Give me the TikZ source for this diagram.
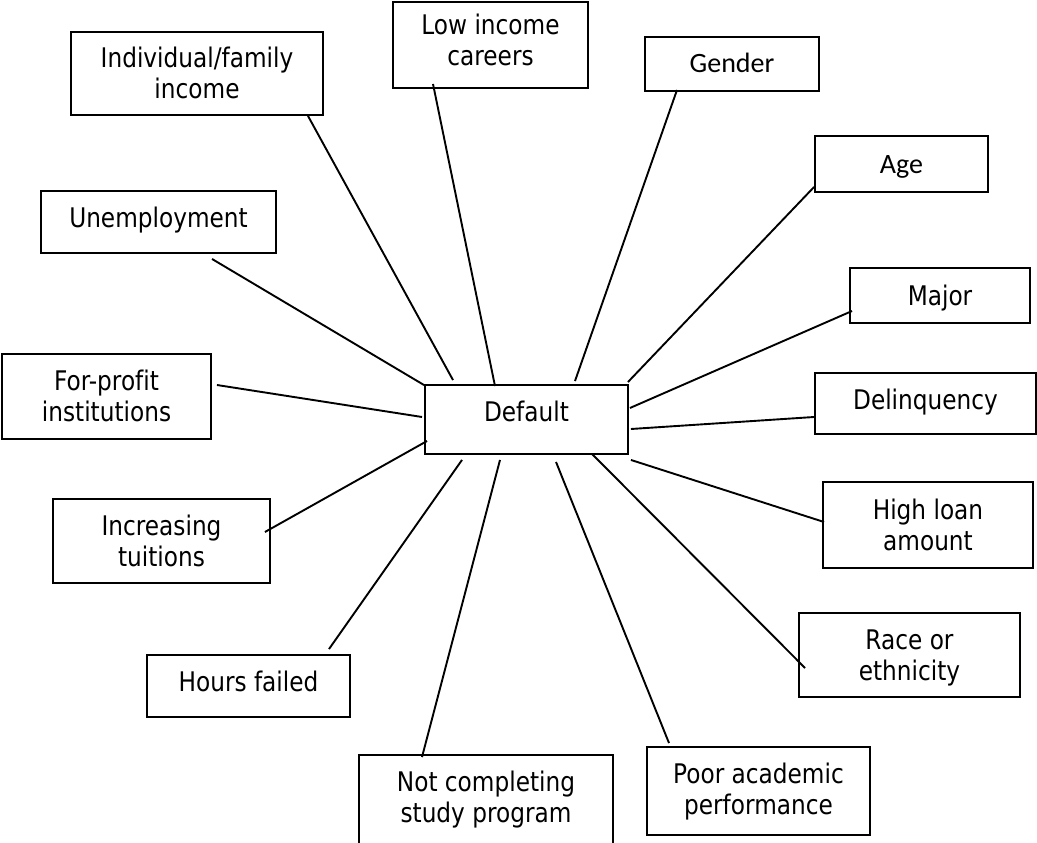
\documentclass[tikz,border=0pt]{standalone}
\usepackage{fontspec}
\setmainfont{DejaVu Sans}[FakeStretch=0.86,Ligatures=NoCommon]
\newfontfamily\calib{Carlito}
\begin{document}
\begin{tikzpicture}[x=1pt,y=-1pt,
  box/.style={draw, line width=1.9pt, inner sep=0pt, align=center,
    font=\fontsize{27}{31}\selectfont},
  bx/.style 2 args={minimum width=#1, minimum height=#2},
  tx/.style={text height=19.7pt, text depth=#1},
  txx/.style={text height=50.7pt, text depth=#1},
  cal/.style={font=\calib\fontsize{28}{31}\selectfont, text height=18pt, text depth=0pt},
  link/.style={line width=1.9pt}]
\clip (0,0) rectangle (1037,843);
\fill[white] (0,0) rectangle (1037,843);

\node[box, bx={203pt}{69pt}, tx=15pt] (def) at (526.5,419.5) {Default};
\node[box, bx={252pt}{83pt}, txx=-4pt] (ind) at (197,73.5) {Individual/family\\income};
\node[box, bx={195pt}{86pt}, txx=9pt] (low) at (490.5,45) {Low income\\careers};
\node[box, bx={174pt}{54pt}, cal] (gen) at (732,64) {Gender};
\node[box, bx={173pt}{56pt}, cal] (age) at (901.5,164) {Age};
\node[box, bx={180pt}{55pt}, tx=0pt] (maj) at (940,295.5) {Major};
\node[box, bx={221pt}{61pt}, tx=7pt] (del) at (925.5,403.5) {Delinquency};
\node[box, bx={210pt}{86pt}, txx=0pt] (hla) at (928,525) {High loan\\amount};
\node[box, bx={221pt}{84pt}, txx=0pt] (rac) at (909.5,655) {Race or\\ethnicity};
\node[box, bx={223pt}{88pt}, txx=4pt] (poo) at (758.5,791) {Poor academic\\performance};
\node[box, bx={254pt}{95pt}, txx=10pt] (not) at (486,802.5) {Not completing\\study program};
\node[box, bx={203pt}{62pt}, tx=8pt] (hou) at (248.5,686) {Hours failed};
\node[box, bx={217pt}{84pt}, txx=0pt] (inc) at (161.5,541) {Increasing\\tuitions};
\node[box, bx={209pt}{85pt}, txx=0pt] (for) at (106.5,396.5) {For-profit\\institutions};
\node[box, bx={235pt}{62pt}, tx=9pt] (une) at (158.5,222) {Unemployment};

\draw[link] ([xshift=111pt]ind.south) -- ([xshift=-73.5pt,yshift=4pt]def.north);
\draw[link] ([xshift=-57.5pt,yshift=5pt]low.south) -- ([xshift=-31.5pt,yshift=-2pt]def.north);
\draw[link] ([xshift=-55pt,yshift=2pt]gen.south) -- ([xshift=48.5pt,yshift=3pt]def.north);
\draw[link] ([yshift=-23pt]age.west) -- ([xshift=-1pt,yshift=2pt]def.north east);
\draw[link] ([xshift=3pt,yshift=-15.5pt]maj.west) -- ([xshift=1pt,yshift=11.5pt]def.east);
\draw[link] ([yshift=-13.5pt]del.west) -- ([xshift=2pt,yshift=-9.5pt]def.east);
\draw[link] ([xshift=2pt,yshift=3pt]hla.west) -- ([xshift=2pt,yshift=-5pt]def.south east);
\draw[link] ([xshift=7pt,yshift=-13pt]rac.west) -- ([xshift=65.5pt,yshift=1pt]def.south);
\draw[link] ([xshift=-89.5pt,yshift=3pt]poo.north) -- ([xshift=29.5pt,yshift=-7pt]def.south);
\draw[link] ([xshift=-64pt,yshift=-3pt]not.north) -- ([xshift=-26.5pt,yshift=-5pt]def.south);
\draw[link] ([xshift=80.5pt,yshift=5pt]hou.north) -- ([xshift=-64.5pt,yshift=-5pt]def.south);
\draw[link] ([xshift=-6pt,yshift=9pt]inc.east) -- ([xshift=3pt,yshift=-21.5pt]def.west);
\draw[link] ([xshift=5pt,yshift=11.5pt]for.east) -- ([xshift=-2pt,yshift=2.5pt]def.west);
\draw[link] ([xshift=53.5pt,yshift=-5pt]une.south) -- ([yshift=-1pt]def.north west);
\end{tikzpicture}
\end{document}
